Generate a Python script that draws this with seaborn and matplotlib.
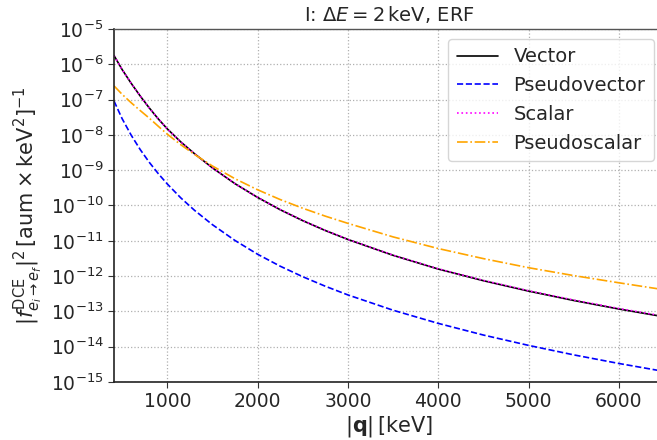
import numpy as np
import pandas as pd
import matplotlib
matplotlib.use("Agg")
import matplotlib.pyplot as plt
import seaborn as sns
from matplotlib.ticker import LogLocator, NullLocator

q = [410, 500, 600, 700, 800, 900, 1000, 1150, 1300, 1500, 1750, 2000, 2250,
     2500, 2750, 3000, 3500, 4000, 4500, 5000, 5500, 6000, 6450]

vector = [1.77e-6, 7.10e-7, 2.90e-7, 1.265e-7, 5.83e-8, 2.84e-8, 1.48e-8, 6.31e-9,
          2.95e-9, 1.164e-9, 4.15e-10, 1.694e-10, 7.60e-11, 3.72e-11, 1.954e-11,
          1.091e-11, 3.88e-12, 1.585e-12, 7.41e-13, 3.76e-13, 2.04e-13, 1.17e-13, 7.41e-14]

pseudovector = [9.12e-8, 2.88e-8, 9.84e-9, 3.85e-9, 1.68e-9, 8.0e-10, 4.07e-10,
                1.64e-10, 7.36e-11, 2.86e-11, 1.02e-11, 4.16e-12, 1.91e-12, 9.6e-13,
                5.16e-13, 2.93e-13, 1.08e-13, 4.58e-14, 2.14e-14, 1.09e-14, 5.87e-15,
                3.35e-15, 2.10e-15]

scalar = [1.77e-6, 7.10e-7, 2.90e-7, 1.265e-7, 5.83e-8, 2.84e-8, 1.48e-8, 6.31e-9,
          2.95e-9, 1.164e-9, 4.15e-10, 1.70e-10, 7.65e-11, 3.75e-11, 1.97e-11,
          1.10e-11, 3.92e-12, 1.61e-12, 7.55e-13, 3.85e-13, 2.10e-13, 1.21e-13, 7.7e-14]

pseudoscalar = [2.45e-7, 1.41e-7, 8.15e-8, 4.90e-8, 2.99e-8, 1.76e-8, 1.047e-8, 5.26e-9,
                2.81e-9, 1.315e-9, 5.73e-10, 2.79e-10, 1.475e-10, 8.36e-11, 4.99e-11,
                3.12e-11, 1.29e-11, 6.04e-12, 3.13e-12, 1.73e-12, 1.035e-12, 6.47e-13, 4.30e-13]

labels = ["Vector", "Pseudovector", "Scalar", "Pseudoscalar"]
series = [vector, pseudovector, scalar, pseudoscalar]
colors = ["black", "blue", "magenta", "orange"]
styles = ["-", "--", ":", "-."]

sns.set_style("ticks")
plt.rcParams['font.family'] = ['DejaVu Sans']
plt.rcParams['mathtext.fontset'] = 'dejavusans'

fig = plt.figure(figsize=(6.57, 4.40), dpi=100)
ax = fig.add_axes([114/657, 1 - 382/440, (664 - 114)/657, (382 - 29)/440])

for lab, vals, c, ls in zip(labels, series, colors, styles):
    df = pd.DataFrame({"q": q, "v": vals})
    sns.lineplot(data=df, x="q", y="v", ax=ax, color=c, linestyle=ls,
                 linewidth=1.2, label=lab)

ax.set_yscale("log")
ax.set_xlim(410, 6500)
ax.set_ylim(1e-15, 1e-5)
ax.yaxis.set_major_locator(LogLocator(base=10, numticks=20))
ax.yaxis.set_minor_locator(NullLocator())
ax.set_xticks([1000, 2000, 3000, 4000, 5000, 6000])
ax.tick_params(axis="both", labelsize=13.5, direction="out", length=4, color="#333333")
ax.grid(True, which="major", linestyle=":", color="#b0b0b0", linewidth=0.9)

for s in ["left", "bottom"]:
    ax.spines[s].set_color("#222222")
    ax.spines[s].set_linewidth(1.2)
for s in ["top", "right"]:
    ax.spines[s].set_color("#555555")
    ax.spines[s].set_linewidth(1.0)

ax.set_xlabel(r"$|\mathbf{q}|\,[\mathrm{keV}]$", fontsize=15, labelpad=2)
ax.set_ylabel(r"$|f^{\mathrm{DCE}}_{e_i\to e_f}|^2\,[\mathrm{aum}\times\mathrm{keV}^2]^{-1}$",
              fontsize=15, labelpad=4)
ax.set_title(r"I: $\Delta E = 2\,\mathrm{keV}$, ERF", fontsize=14, pad=6)

leg = ax.legend(loc="upper right", fontsize=14, frameon=True, fancybox=True,
                handlelength=2.1, borderpad=0.45, labelspacing=0.5,
                borderaxespad=0.5)
leg.get_frame().set_edgecolor("#cccccc")

fig.savefig("out.png", dpi=100)
